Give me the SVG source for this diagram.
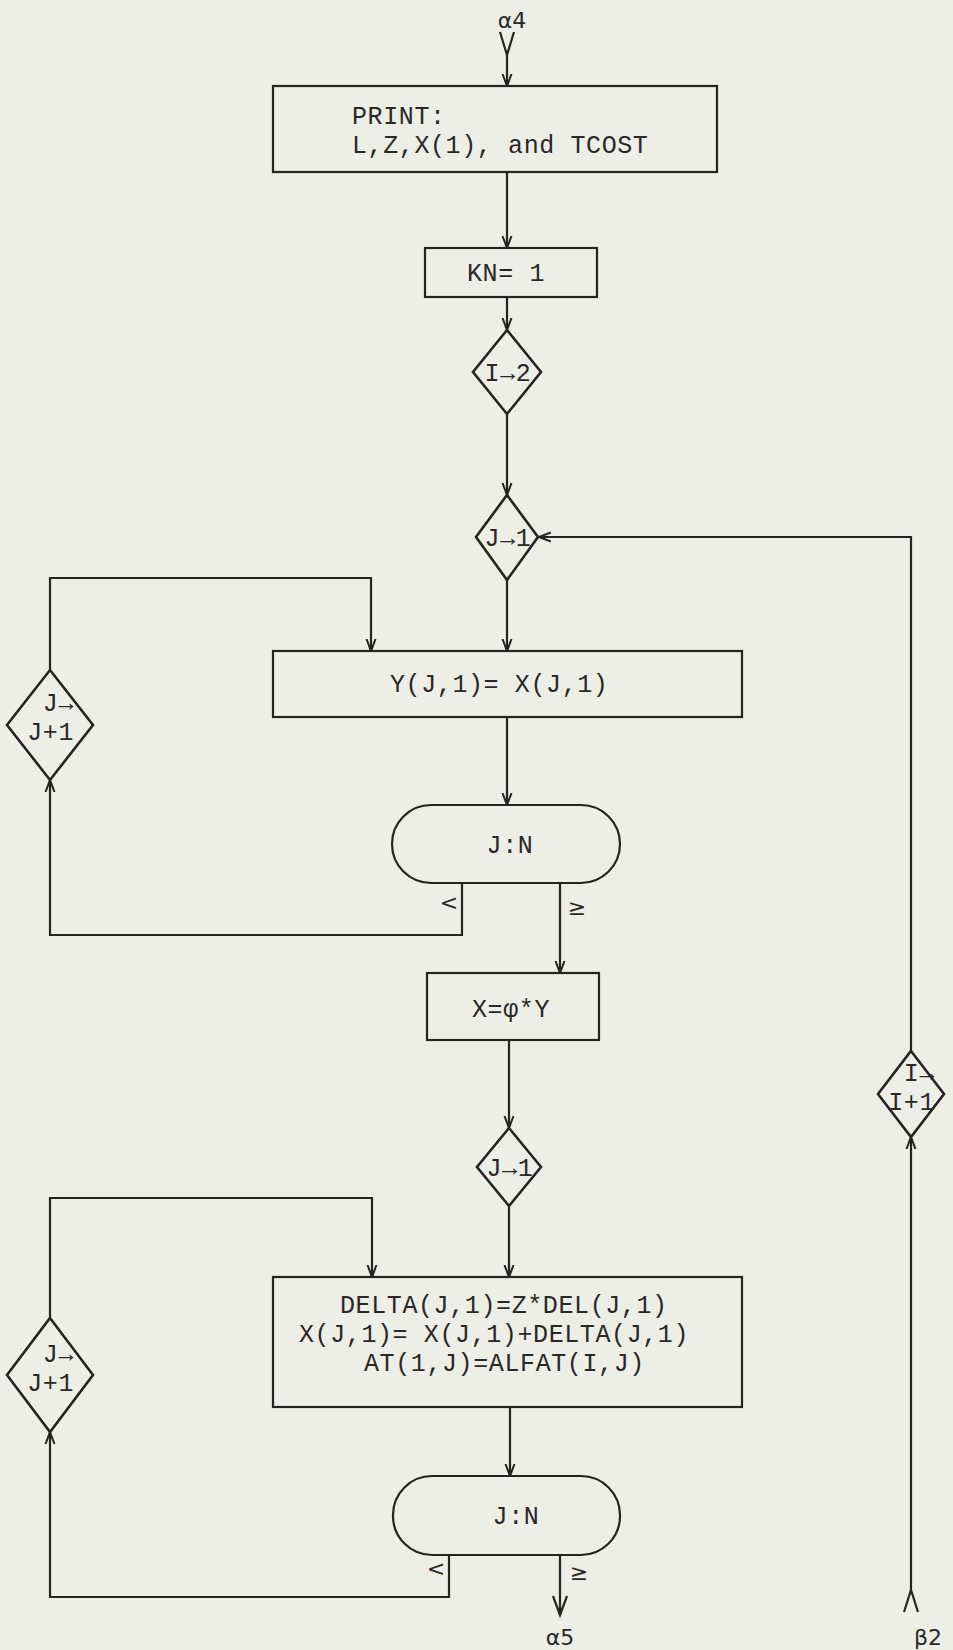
<svg xmlns="http://www.w3.org/2000/svg" width="953" height="1650" viewBox="0 0 953 1650">
<defs>
<style>
.bg{fill:#edefe6}
.box{fill:none;stroke:#262322;stroke-width:2.2}
.dia{fill:none;stroke:#262322;stroke-width:2.6}
.ln{fill:none;stroke:#262322;stroke-width:2.2}
.t{font-family:"Liberation Mono","DejaVu Sans Mono",monospace;font-size:25px;letter-spacing:0.6px;fill:#2a2726}
.tm{font-family:"Liberation Mono","DejaVu Sans Mono",monospace;font-size:25px;letter-spacing:0.6px;fill:#2a2726;text-anchor:middle}
.te{font-family:"Liberation Mono","DejaVu Sans Mono",monospace;font-size:25px;letter-spacing:0.6px;fill:#2a2726;text-anchor:end}
.lab{font-family:"DejaVu Sans","Liberation Sans",sans-serif;font-size:22px;fill:#2a2726;text-anchor:middle}
</style>
<marker id="ah" viewBox="0 -6 13 12" refX="12" refY="0" markerWidth="13" markerHeight="12" markerUnits="userSpaceOnUse" orient="auto">
<path d="M0,-4.5 L12,0 L0,4.5" fill="none" stroke="#262322" stroke-width="2"/>
</marker>
</defs>
<rect class="bg" x="0" y="0" width="953" height="1650"/>

<g id="connectors">
<path class="ln" d="M500,32 L507,55 L514,32"/>
<path class="ln" d="M507,55 V86" marker-end="url(#ah)"/>
<path class="ln" d="M507,172 V248" marker-end="url(#ah)"/>
<path class="ln" d="M507,297 V330" marker-end="url(#ah)"/>
<path class="ln" d="M507,414 V495" marker-end="url(#ah)"/>
<path class="ln" d="M507,580 V651" marker-end="url(#ah)"/>
<path class="ln" d="M507,717 V805" marker-end="url(#ah)"/>
<path class="ln" d="M462,883 V935 H50 V780" marker-end="url(#ah)"/>
<path class="ln" d="M50,670 V578 H371 V651" marker-end="url(#ah)"/>
<path class="ln" d="M560,883 V973" marker-end="url(#ah)"/>
<path class="ln" d="M509,1040 V1128" marker-end="url(#ah)"/>
<path class="ln" d="M509,1206 V1277" marker-end="url(#ah)"/>
<path class="ln" d="M510,1407 V1476" marker-end="url(#ah)"/>
<path class="ln" d="M449,1555 V1597 H50 V1432" marker-end="url(#ah)"/>
<path class="ln" d="M50,1318 V1198 H372 V1277" marker-end="url(#ah)"/>
<path class="ln" d="M560,1555 V1615"/>
<path class="ln" d="M553,1596 L560,1615 L567,1596"/>
<path class="ln" d="M911,1590 V1137" marker-end="url(#ah)"/>
<path class="ln" d="M904,1612 L911,1590 L918,1612"/>
<path class="ln" d="M911,1051 V537 H539" marker-end="url(#ah)"/>
<text class="lab" x="512" y="28">α4</text>
<text class="lab" x="449" y="910">&lt;</text>
<text class="lab" x="577" y="915">≥</text>
<text class="lab" x="436" y="1576">&lt;</text>
<text class="lab" x="579" y="1580">≥</text>
<text class="lab" x="560" y="1645">α5</text>
<text class="lab" x="928" y="1645">β2</text>
</g>

<g id="print">
<rect class="box" x="273" y="86" width="444" height="86"/>
<text class="t" x="352" y="124">PRINT:</text>
<text class="t" x="352" y="153">L,Z,X(1), and TCOST</text>
</g>

<g id="kn">
<rect class="box" x="425" y="248" width="172" height="49"/>
<text class="t" x="467" y="281">KN= 1</text>
</g>

<g id="i2">
<path class="dia" d="M507,330 L541,372 L507,414 L473,372 Z"/>
<text class="tm" x="508" y="381">I→2</text>
</g>

<g id="j1a">
<path class="dia" d="M507,495 L538,537 L507,580 L476,537 Z"/>
<text class="tm" x="508" y="546">J→1</text>
</g>

<g id="ybox">
<rect class="box" x="273" y="651" width="469" height="66"/>
<text class="t" x="390" y="692">Y(J,1)= X(J,1)</text>
</g>

<g id="jj1a">
<path class="dia" d="M50,670 L93,725 L50,780 L7,725 Z"/>
<text class="te" x="74" y="711">J→</text>
<text class="te" x="74" y="740">J+1</text>
</g>

<g id="jna">
<rect class="box" x="392" y="805" width="228" height="78" rx="39" ry="39"/>
<text class="tm" x="510" y="853">J:N</text>
</g>

<g id="xbox">
<rect class="box" x="427" y="973" width="172" height="67"/>
<text class="tm" x="511" y="1017">X=φ*Y</text>
</g>

<g id="j1b">
<path class="dia" d="M509,1128 L541,1167 L509,1206 L477,1167 Z"/>
<text class="tm" x="510" y="1176">J→1</text>
</g>

<g id="delta">
<rect class="box" x="273" y="1277" width="469" height="130"/>
<text class="t" x="340" y="1313">DELTA(J,1)=Z*DEL(J,1)</text>
<text class="t" x="299" y="1342">X(J,1)= X(J,1)+DELTA(J,1)</text>
<text class="t" x="364" y="1371">AT(1,J)=ALFAT(I,J)</text>
</g>

<g id="jj1b">
<path class="dia" d="M50,1318 L93,1375 L50,1432 L7,1375 Z"/>
<text class="te" x="74" y="1362">J→</text>
<text class="te" x="74" y="1391">J+1</text>
</g>

<g id="jnb">
<rect class="box" x="393" y="1476" width="227" height="79" rx="39" ry="39"/>
<text class="tm" x="516" y="1524">J:N</text>
</g>

<g id="ii1">
<path class="dia" d="M911,1051 L944,1094 L911,1137 L878,1094 Z"/>
<text class="te" x="935" y="1081">I→</text>
<text class="te" x="935" y="1110">I+1</text>
</g>
</svg>
